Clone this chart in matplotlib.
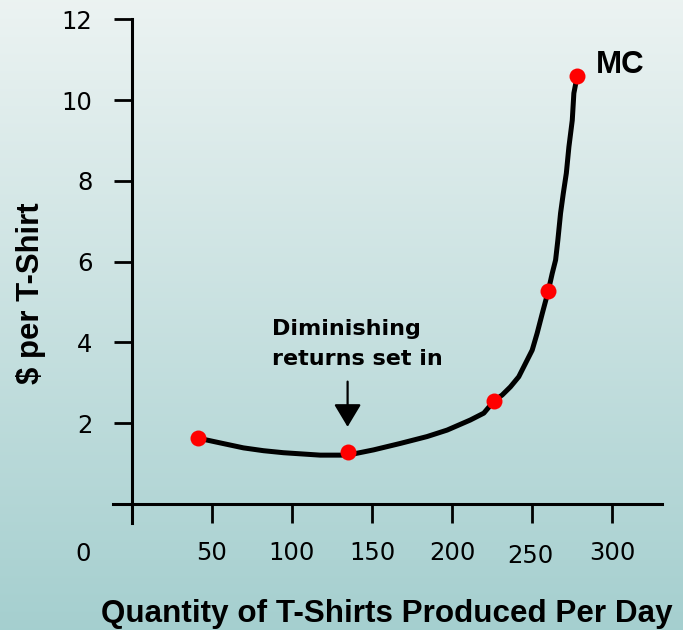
#! /usr/bin/env python3
"""
Marginal cost (MC) curve for T-shirt production
"""

import numpy as np
import matplotlib
matplotlib.use('Agg')
import matplotlib.pyplot as plt
from matplotlib.transforms import ScaledTranslation

# MC curve
curve_q = [41.6, 52.1, 69.8, 82.3, 94.8, 117.7, 134.8, 151.0, 167.7, 184.4,
           196.9, 211.4, 219.8, 226.4, 231.3, 236.4, 241.6, 245.8, 250.0,
           253.1, 256.3, 260.0, 262.5, 264.6, 266.0, 267.7, 269.4, 271.3,
           272.9, 275.0, 276.0, 278.1]
curve_cost = [1.63, 1.54, 1.39, 1.32, 1.27, 1.21, 1.21, 1.34, 1.50, 1.67,
              1.83, 2.08, 2.25, 2.56, 2.70, 2.90, 3.15, 3.48, 3.81, 4.23,
              4.72, 5.27, 5.71, 6.04, 6.53, 7.20, 7.69, 8.19, 8.84, 9.50,
              10.17, 10.60]
# red dots
point_q = [41.6, 134.8, 226.4, 260.0, 278.1]
point_cost = [1.63, 1.29, 2.56, 5.27, 10.60]

x_ticks = [0, 50, 100, 150, 200, 250, 300]
x_tick_labels = ['0', '50', '100', '150', '200', '250', '300']
y_ticks = [2, 4, 6, 8, 10, 12]
y_tick_labels = ['2', '4', '6', '8', '10', '12']

x_label = 'Quantity of T-Shirts Produced Per Day'
y_label = '$ per T-Shirt'
curve_label = 'MC'
note_text = 'Diminishing\nreturns set in'
# arrow from / to (cost)
arrow_from = 3.03
arrow_to = 1.91


def main():
    fig = plt.figure(figsize=(6.83, 6.30), dpi=100)

    # vertical gradient background
    bg = fig.add_axes([0, 0, 1, 1], zorder=-1)
    top = np.array([0.925, 0.953, 0.949])
    bottom = np.array([0.647, 0.812, 0.812])
    t = np.linspace(0, 1, 256)[:, None]
    grad = top + (bottom - top) * t
    bg.imshow(grad[:, None, :], aspect='auto', extent=(0, 1, 0, 1))
    bg.axis('off')

    ax = fig.add_axes([113 / 683, 1 - 523 / 630, 549 / 683, (523 - 19.3) / 630])
    ax.set_facecolor('none')
    ax.set_xlim(-11.6, 331)
    ax.set_ylim(-0.47, 12)
    for side in ['top', 'right']:
        ax.spines[side].set_visible(False)
    for side in ['left', 'bottom']:
        ax.spines[side].set_position(('data', 0))
        ax.spines[side].set_linewidth(2.2)

    ax.set_xticks(x_ticks)
    ax.set_xticklabels(x_tick_labels)
    ax.set_yticks(y_ticks)
    ax.set_yticklabels(y_tick_labels)
    ax.tick_params(axis='x', direction='out', length=13.7, width=2,
                   pad=12.8, labelsize=17.5)
    ax.tick_params(axis='y', direction='out', length=13, width=2,
                   pad=15.3, labelsize=17.5)

    # the 0 and 250 labels sit off their ticks in the original
    shifts = {0: (-48.7, -1), 250: (-2, -3.5)}
    for tick in ax.xaxis.get_major_ticks():
        loc = tick.get_loc()
        if loc in shifts:
            dx, dy = shifts[loc]
            lab = tick.label1
            lab.set_transform(lab.get_transform() + ScaledTranslation(
                dx / 100, dy / 100, fig.dpi_scale_trans))

    ax.plot(curve_q, curve_cost, color='black', lw=3.6,
            solid_capstyle='butt', zorder=3, clip_on=False)
    ax.plot(point_q, point_cost, 'o', color='red', ms=11.5, mec='none',
            zorder=4, clip_on=False)

    ax.annotate(curve_label, xy=(point_q[-1], point_cost[-1]),
                xytext=(13.2, 2.2), textcoords='offset points',
                ha='left', va='baseline', fontsize=22.5, fontweight='bold',
                family='Liberation Sans')

    ax.annotate('', xy=(point_q[1], arrow_to),
                xytext=(point_q[1], arrow_from),
                arrowprops=dict(arrowstyle='-|>,head_length=0.7,head_width=0.42',
                                color='black', lw=1.6, shrinkA=0, shrinkB=0,
                                mutation_scale=20))
    ax.annotate(note_text, xy=(point_q[1], arrow_from),
                xytext=(-54.7, 12), textcoords='offset points',
                ha='left', va='baseline', fontsize=16, fontweight='bold',
                linespacing=1.6, family='DejaVu Sans')

    fig.text(387 / 683, 1 - 621.7 / 630, x_label, ha='center',
             va='baseline', fontsize=22.6, fontweight='bold',
             family='Liberation Sans')
    fig.text(31 / 683, 1 - 293 / 630, y_label, rotation=90, ha='center',
             va='center', fontsize=22.4, fontweight='bold',
             family='Liberation Sans')

    fig.savefig('out.png', dpi=100)


if __name__ == '__main__':
    main()
